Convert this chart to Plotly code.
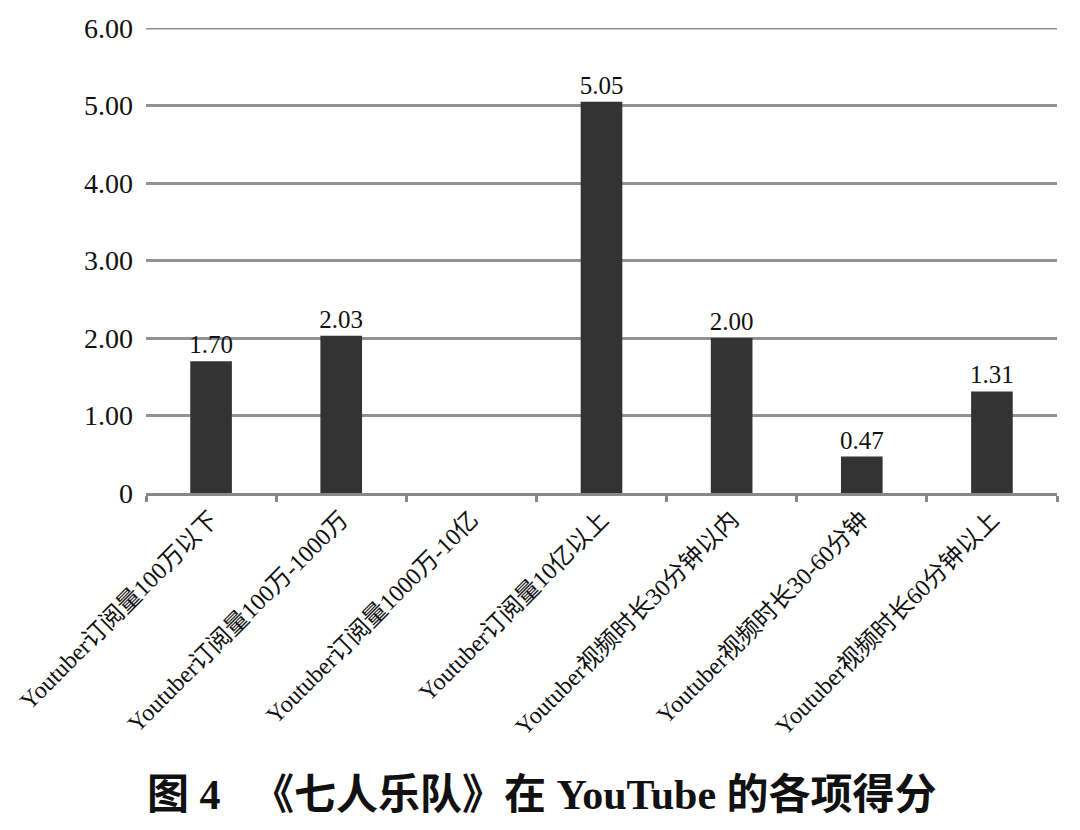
import plotly.graph_objects as go

# Category labels and scores
categories = [
    "Youtuber订阅量100万以下",
    "Youtuber订阅量100万-1000万",
    "Youtuber订阅量1000万-10亿",
    "Youtuber订阅量10亿以上",
    "Youtuber视频时长30分钟以内",
    "Youtuber视频时长30-60分钟",
    "Youtuber视频时长60分钟以上",
]
scores = [1.70, 2.03, None, 5.05, 2.00, 0.47, 1.31]
score_labels = ["1.70", "2.03", "", "5.05", "2.00", "0.47", "1.31"]

y_ticks = [0, 1, 2, 3, 4, 5, 6]
y_tick_text = ["0", "1.00", "2.00", "3.00", "4.00", "5.00", "6.00"]

FONT = "Liberation Serif"

# page has an 8px body margin, so the figure is a bit smaller than the window
W, H = 1064, 814
M = dict(l=138, r=15, t=20, b=329)

fig = go.Figure(go.Bar(
    x=categories,
    y=scores,
    text=score_labels,
    textposition="outside",
    constraintext="none",
    textfont=dict(size=25, color="#111111", family=FONT),
    cliponaxis=False,
    marker=dict(color="#333333", line=dict(width=0)),
))

plot_w = W - M["l"] - M["r"]
plot_h = H - M["t"] - M["b"]
title_x = (542 - 8 - M["l"]) / plot_w
title_y = (H - M["b"] - (795 - 8)) / plot_h

fig.update_layout(
    width=W,
    height=H,
    margin=M,
    plot_bgcolor="white",
    paper_bgcolor="white",
    bargap=0.68,
    showlegend=False,
    font=dict(family=FONT, color="#111111"),
    annotations=[dict(
        text="<b>图 4 　《七人乐队》在 YouTube 的各项得分</b>",
        x=title_x, xref="paper", xanchor="center",
        y=title_y, yref="paper", yanchor="middle",
        showarrow=False,
        font=dict(size=42, family="Liberation Serif, Noto Sans CJK SC", color="#111111"),
    )],
    # top gridline at the range edge
    shapes=[dict(
        type="line", xref="paper", x0=0, x1=1,
        yref="y", y0=y_ticks[-1], y1=y_ticks[-1],
        line=dict(color="#929292", width=3),
        layer="below",
    )],
)

fig.update_xaxes(
    type="category",
    automargin=False,
    tickangle=-45,
    tickfont=dict(size=24, family="Liberation Serif, Noto Sans CJK SC", color="#111111"),
    showline=True,
    linecolor="#888888",
    linewidth=3,
    ticks="outside",
    tickson="boundaries",
    tickcolor="#888888",
    tickwidth=3,
    ticklen=6,
    showgrid=False,
)
fig.update_yaxes(
    automargin=False,
    range=[0, 6],
    tickvals=y_ticks,
    ticktext=y_tick_text,
    tickfont=dict(size=28, family=FONT, color="#111111"),
    ticklabelstandoff=12,
    showgrid=True,
    gridcolor="#929292",
    gridwidth=3,
    zeroline=False,
    showline=False,
    ticks="",
)

fig.write_html("out.html")
